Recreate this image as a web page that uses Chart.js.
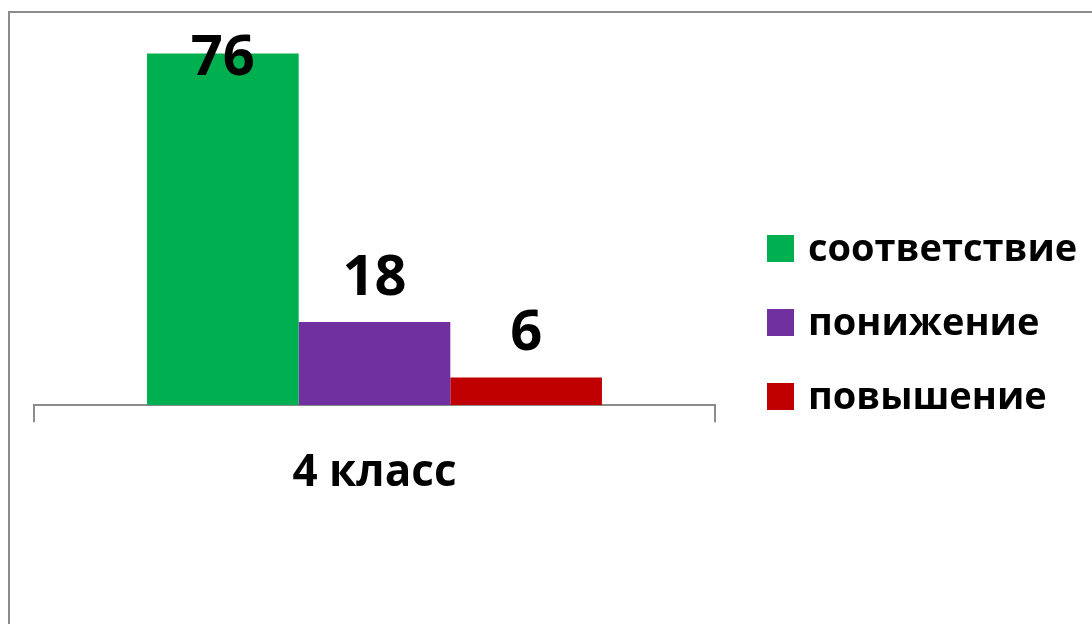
<!DOCTYPE html>
<html>
<head>
<meta charset="utf-8">
<script src="https://cdn.jsdelivr.net/npm/chart.js@4.4.1/dist/chart.umd.min.js"></script>
<style>
  html, body { margin: 0; padding: 0; background: #ffffff; }
  #wrap { position: relative; width: 1092px; height: 624px; }
</style>
</head>
<body>
<div id="wrap"><canvas id="c" width="1092" height="624"></canvas></div>
<script>
const categories = ['4 класс'];
const seriesNames = ['соответствие', 'понижение', 'повышение'];
const seriesColors = ['#00B050', '#7030A0', '#C00000'];
const valuesCorrespondence = [76];
const valuesDecrease = [18];
const valuesIncrease = [6];
const yMax = 80;

const FONT = '"Open Sans", "DejaVu Sans", sans-serif';

const framePlugin = {
  id: 'frame',
  beforeDraw(chart) {
    const ctx = chart.ctx;
    ctx.save();
    ctx.fillStyle = '#ffffff';
    ctx.fillRect(0, 0, chart.width, chart.height);
    ctx.strokeStyle = '#8c8c8c';
    ctx.lineWidth = 2;
    ctx.strokeRect(9, 12, 2000, 2000);
    ctx.restore();
  }
};

const valueLabelPlugin = {
  id: 'valueLabels',
  afterDatasetsDraw(chart) {
    const ctx = chart.ctx;
    const top = chart.chartArea.top;
    ctx.save();
    ctx.font = 'bold 56px ' + FONT;
    ctx.fillStyle = '#000000';
    ctx.textAlign = 'center';
    ctx.textBaseline = 'alphabetic';
    chart.data.datasets.forEach((ds, di) => {
      const meta = chart.getDatasetMeta(di);
      meta.data.forEach((bar, i) => {
        let base = bar.y - 27;
        if (base - 40 < top) base = top + 40;
        ctx.fillText(String(ds.data[i]), bar.x, base);
      });
    });
    ctx.restore();
  }
};

const legendPlugin = {
  id: 'customLegend',
  afterDraw(chart) {
    const ctx = chart.ctx;
    ctx.save();
    ctx.font = 'bold 38px ' + FONT;
    ctx.textAlign = 'left';
    ctx.textBaseline = 'alphabetic';
    chart.data.datasets.forEach((ds, di) => {
      const cy = 248.5 + di * 74;
      ctx.fillStyle = ds.backgroundColor;
      ctx.fillRect(767, cy - 13.5, 27, 27);
      ctx.fillStyle = '#000000';
      ctx.fillText(ds.label, 808, cy + 12.5);
    });
    ctx.restore();
  }
};

const seriesValues = [valuesCorrespondence, valuesDecrease, valuesIncrease];

new Chart(document.getElementById('c'), {
  type: 'bar',
  data: {
    labels: categories,
    datasets: seriesNames.map((name, i) => ({
      label: name,
      data: seriesValues[i],
      backgroundColor: seriesColors[i],
      borderWidth: 0,
      categoryPercentage: 0.668,
      barPercentage: 1.0
    }))
  },
  options: {
    responsive: false,
    animation: false,
    events: [],
    layout: { padding: { top: 35, left: 34, right: 377, bottom: 99 } },
    plugins: {
      legend: { display: false },
      tooltip: { enabled: false },
      title: { display: false }
    },
    scales: {
      x: {
        grid: {
          display: true,
          drawOnChartArea: false,
          drawTicks: true,
          tickLength: 17,
          color: '#8c8c8c',
          lineWidth: 2,
          offset: true
        },
        border: { display: true, color: '#8c8c8c', width: 2 },
        ticks: {
          color: '#000000',
          font: { family: FONT, size: 44, weight: 'bold' },
          padding: 25
        }
      },
      y: {
        display: false,
        min: 0,
        max: yMax
      }
    }
  },
  plugins: [framePlugin, valueLabelPlugin, legendPlugin]
});
</script>
</body>
</html>
